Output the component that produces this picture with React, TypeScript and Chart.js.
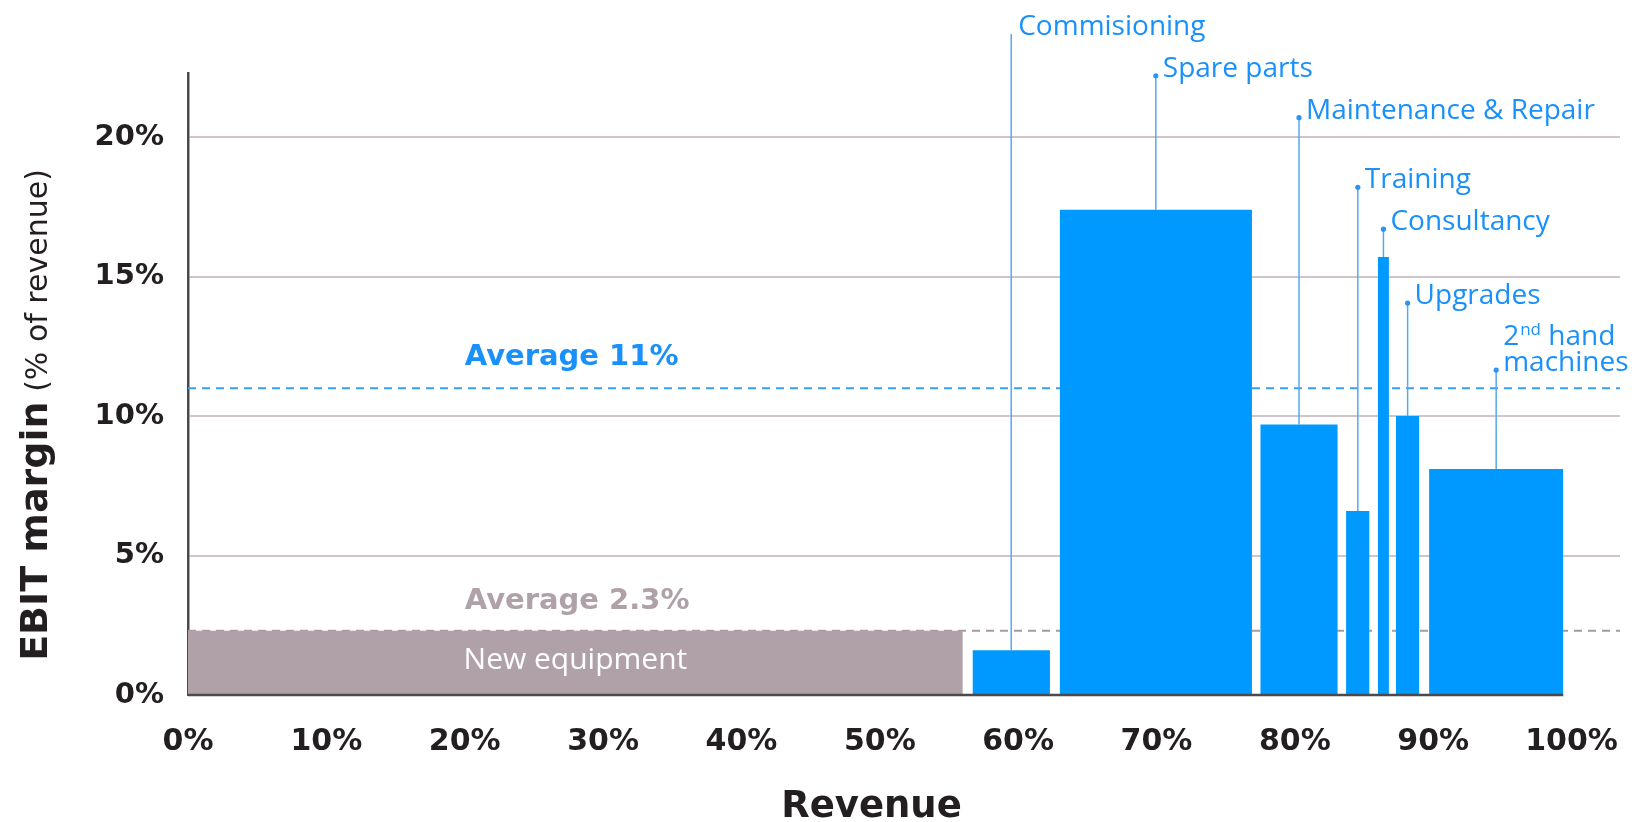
import React, { useEffect, useRef } from 'react';
import { Chart, registerables } from 'chart.js';

Chart.register(...registerables);

// ---- Data ----
const CATEGORIES = [
  'New equipment',
  'Commisioning',
  'Spare parts',
  'Maintenance & Repair',
  'Training',
  'Consultancy',
  'Upgrades',
  '2nd hand machines',
];
// cumulative revenue share (%), start and end of each block
const REVENUE_START = [0, 56.7, 63.0, 77.5, 83.7, 86.0, 87.3, 89.7];
const REVENUE_END = [56.0, 62.3, 76.9, 83.1, 85.4, 86.8, 89.0, 99.4];
// EBIT margin (% of revenue)
const EBIT_MARGIN = [2.3, 1.6, 17.4, 9.7, 6.6, 15.7, 10.0, 8.1];
// height of the label leader line end (% on the y scale)
const LABEL_LEVEL = [0, 23.7, 22.2, 20.7, 18.2, 16.7, 14.05, 11.65];
const AVERAGE_SERVICES = 11;
const AVERAGE_EQUIPMENT = 2.3;
const AVERAGE_LABELS = ['Average 11%', 'Average 2.3%'];
const X_TICKS = [0, 10, 20, 30, 40, 50, 60, 70, 80, 90, 100];
const Y_TICKS = [0, 5, 10, 15, 20];

const X_MAX = 103.5;
const BLUE = '#0099ff';
const BLUE_TEXT = '#1a90fb';
const BLUE_LINE = '#55a8f2';
const GRAY = '#b0a1a9';
const GRAY_TEXT = '#b0a1a9';
const DARK = '#231f20';

export default function App() {
  const ref = useRef<HTMLCanvasElement>(null);

  useEffect(() => {
    document.body.style.margin = '0';
    const canvas = ref.current;
    if (!canvas) return;

    const datasets: any[] = [];
    // average lines (behind bars)
    datasets.push({
      data: [
        { x: 0, y: AVERAGE_SERVICES },
        { x: X_MAX, y: AVERAGE_SERVICES },
      ],
      borderColor: '#3a9ef5',
      borderWidth: 2,
      borderDash: [8, 6],
      pointRadius: 0,
      fill: false,
      order: 6,
    });
    datasets.push({
      data: [
        { x: 0, y: AVERAGE_EQUIPMENT },
        { x: X_MAX, y: AVERAGE_EQUIPMENT },
      ],
      borderColor: '#a89aa2',
      borderWidth: 2,
      borderDash: [8, 6],
      pointRadius: 0,
      fill: false,
      order: 5,
    });
    // bars as filled rectangles
    CATEGORIES.forEach((_, i) => {
      const x0 = REVENUE_START[i];
      const x1 = REVENUE_END[i];
      const h = EBIT_MARGIN[i];
      datasets.push({
        data: [
          { x: x0, y: 0 },
          { x: x0, y: h },
          { x: x1, y: h },
          { x: x1, y: 0 },
        ],
        backgroundColor: i === 0 ? GRAY : BLUE,
        borderColor: 'rgba(0,0,0,0)',
        borderWidth: 0,
        pointRadius: 0,
        fill: 'origin',
        tension: 0,
        order: 4,
      });
    });
    // leader lines
    CATEGORIES.forEach((_, i) => {
      if (i === 0) return;
      const xc = (REVENUE_START[i] + REVENUE_END[i]) / 2;
      datasets.push({
        data: [
          { x: xc, y: EBIT_MARGIN[i] },
          { x: xc, y: LABEL_LEVEL[i] },
        ],
        borderColor: BLUE_LINE,
        borderWidth: 1.5,
        pointRadius: [0, 2.6],
        pointBackgroundColor: '#2a95f5',
        pointBorderWidth: 0,
        fill: false,
        clip: false,
        order: 2,
      });
    });
    // baseline
    datasets.push({
      data: [
        { x: 0, y: 0 },
        { x: REVENUE_END[REVENUE_END.length - 1], y: 0 },
      ],
      borderColor: '#4a4a4a',
      borderWidth: 2.5,
      pointRadius: 0,
      fill: false,
      clip: false,
      order: 1,
    });

    const textPlugin = {
      id: 'textPlugin',
      afterDatasetsDraw(chart: any) {
        const ctx = chart.ctx;
        const xs = chart.scales.x;
        const ys = chart.scales.y;
        ctx.save();
        // category labels
        ctx.fillStyle = BLUE_TEXT;
        ctx.textAlign = 'left';
        ctx.textBaseline = 'alphabetic';
        const labelFont = '500 28px "Open Sans"';
        CATEGORIES.forEach((name, i) => {
          if (i === 0) return;
          const xc = (REVENUE_START[i] + REVENUE_END[i]) / 2;
          const px = xs.getPixelForValue(xc) + 7;
          const py = ys.getPixelForValue(LABEL_LEVEL[i]) + 1;
          ctx.font = labelFont;
          if (name.startsWith('2nd')) {
            const l1y = py - 26;
            ctx.fillText('2', px, l1y);
            let w = ctx.measureText('2').width;
            ctx.font = '500 17px "Open Sans"';
            ctx.fillText('nd', px + w + 1, l1y - 10);
            w += ctx.measureText('nd').width + 1;
            ctx.font = labelFont;
            ctx.fillText(' hand', px + w, l1y);
            ctx.fillText('machines', px, py);
          } else {
            ctx.fillText(name, px, py);
          }
        });
        // New equipment label
        ctx.fillStyle = '#ffffff';
        ctx.textAlign = 'center';
        ctx.textBaseline = 'middle';
        ctx.font = '500 30px "Open Sans"';
        ctx.fillText(
          CATEGORIES[0],
          xs.getPixelForValue((REVENUE_START[0] + REVENUE_END[0]) / 2),
          ys.getPixelForValue(EBIT_MARGIN[0] / 2) - 2
        );
        // average labels
        ctx.textAlign = 'left';
        ctx.textBaseline = 'alphabetic';
        ctx.font = 'bold 29px "DejaVu Sans"';
        ctx.fillStyle = BLUE_TEXT;
        ctx.fillText(AVERAGE_LABELS[0], xs.getPixelForValue(20), ys.getPixelForValue(AVERAGE_SERVICES) - 23);
        ctx.fillStyle = GRAY_TEXT;
        ctx.fillText(AVERAGE_LABELS[1], xs.getPixelForValue(20), ys.getPixelForValue(AVERAGE_EQUIPMENT) - 22);
        // x title
        ctx.fillStyle = DARK;
        ctx.textAlign = 'center';
        ctx.font = 'bold 37px "DejaVu Sans"';
        ctx.fillText('Revenue', xs.getPixelForValue(49.4), 817);
        // y title (mixed fonts)
        ctx.translate(47, (ys.getPixelForValue(0) + ys.getPixelForValue(22.3)) / 2 + 31);
        ctx.rotate(-Math.PI / 2);
        const boldF = 'bold 38px "DejaVu Sans"';
        const regF = '30px "DejaVu Sans"';
        ctx.font = boldF;
        const w1 = ctx.measureText('EBIT margin').width;
        ctx.font = regF;
        const w2 = ctx.measureText(' (% of revenue)').width;
        const start = -(w1 + w2) / 2;
        ctx.textAlign = 'left';
        ctx.font = boldF;
        ctx.fillText('EBIT margin', start, 0);
        ctx.font = regF;
        ctx.fillText(' (% of revenue)', start + w1, 0);
        ctx.restore();
      },
    };

    const chart = new Chart(canvas, {
      type: 'line',
      data: { datasets },
      options: {
        animation: false,
        responsive: true,
        maintainAspectRatio: false,
        layout: { padding: { left: 0, top: 73, right: 19, bottom: 0 } },
        plugins: {
          legend: { display: false },
          tooltip: { enabled: false },
          title: { display: false },
        },
        elements: { line: { tension: 0 } },
        scales: {
          x: {
            type: 'linear',
            min: 0,
            max: X_MAX,
            afterBuildTicks: (s: any) => {
              s.ticks = X_TICKS.map((v) => ({ value: v }));
            },
            afterFit: (s: any) => {
              s.height = 127;
              s.paddingLeft = 0;
              s.paddingRight = 0;
            },
            ticks: {
              callback: (v: any) => v + '%',
              font: { family: 'DejaVu Sans', weight: 'bold', size: 30 },
              color: DARK,
              padding: 29,
              maxRotation: 0,
              autoSkip: false,
            },
            grid: { display: false, drawTicks: false },
            border: { display: false },
          },
          y: {
            type: 'linear',
            min: 0,
            max: 22.3,
            afterBuildTicks: (s: any) => {
              s.ticks = Y_TICKS.map((v) => ({ value: v }));
            },
            afterFit: (s: any) => {
              s.width = 188;
            },
            ticks: {
              callback: (v: any) => v + '%',
              font: { family: 'DejaVu Sans', weight: 'bold', size: 29 },
              color: DARK,
              padding: 24,
            },
            grid: {
              drawTicks: false,
              lineWidth: 2,
              color: (c: any) => (c.tick && c.tick.value === 0 ? 'rgba(0,0,0,0)' : '#d0c5cb'),
            },
            border: { display: true, color: '#4a4a4a', width: 2.5 },
          },
        },
      },
      plugins: [textPlugin],
    } as any);

    return () => chart.destroy();
  }, []);

  return (
    <div style={{ position: 'absolute', left: 0, top: 0, width: 1639, height: 822, background: '#fff' }}>
      <canvas ref={ref} />
    </div>
  );
}
